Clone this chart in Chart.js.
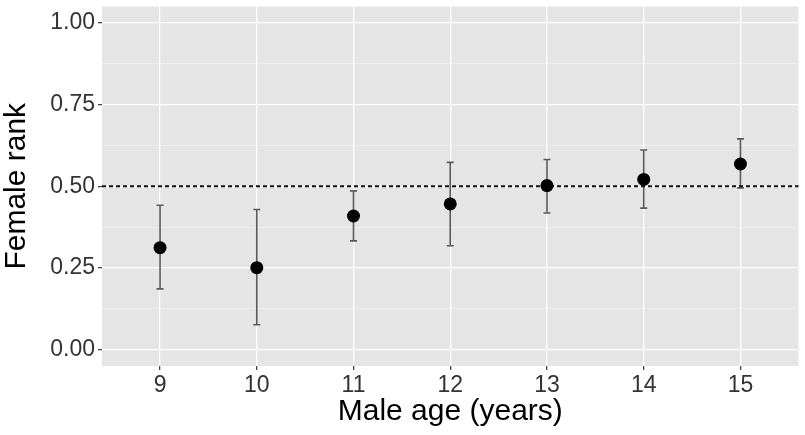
<!DOCTYPE html>
<html>
<head>
<meta charset="utf-8">
<script src="https://cdn.jsdelivr.net/npm/chart.js"></script>
<style>
  html, body { margin: 0; padding: 0; background: #fff; }
  #wrap { width: 805px; height: 435px; }
</style>
</head>
<body>
<div id="wrap"><canvas id="rankChart"></canvas></div>
<script>
  // data
  const maleAge = [9, 10, 11, 12, 13, 14, 15];
  const rankMean = [0.312, 0.251, 0.409, 0.446, 0.502, 0.521, 0.568];
  const rankLower = [0.186, 0.076, 0.333, 0.318, 0.418, 0.433, 0.495];
  const rankUpper = [0.442, 0.429, 0.486, 0.573, 0.582, 0.611, 0.645];
  const yTicks = [0, 0.25, 0.5, 0.75, 1];
  const yMinor = [0.125, 0.375, 0.625, 0.875];
  const refLine = 0.5;

  const tickFont = { family: 'Liberation Sans, Arial, sans-serif', size: 23 };
  const titleFont = { family: 'Liberation Sans, Arial, sans-serif', size: 30, lineHeight: 1 };

  // grey ggplot-like panel
  const panelBg = {
    id: 'panelBg',
    beforeDraw(chart) {
      const { ctx, chartArea: a } = chart;
      ctx.save();
      ctx.fillStyle = '#e5e5e5';
      ctx.fillRect(a.left, a.top, a.right - a.left, a.bottom - a.top);
      ctx.restore();
    }
  };

  // error bars + dashed reference line, drawn under the points
  const errorBars = {
    id: 'errorBars',
    beforeDatasetsDraw(chart) {
      const { ctx, chartArea: a, scales: { x, y } } = chart;
      ctx.save();
      ctx.strokeStyle = '#5a5a5a';
      ctx.lineWidth = 1.6;
      maleAge.forEach((age, i) => {
        const px = x.getPixelForValue(age);
        const top = y.getPixelForValue(rankUpper[i]);
        const bot = y.getPixelForValue(rankLower[i]);
        ctx.beginPath();
        ctx.moveTo(px, top); ctx.lineTo(px, bot);
        ctx.moveTo(px - 3.5, top); ctx.lineTo(px + 3.5, top);
        ctx.moveTo(px - 3.5, bot); ctx.lineTo(px + 3.5, bot);
        ctx.stroke();
      });
      // reference line
      const py = y.getPixelForValue(refLine);
      ctx.strokeStyle = '#111';
      ctx.lineWidth = 2;
      ctx.setLineDash([4, 3]);
      ctx.beginPath();
      ctx.moveTo(a.left, py); ctx.lineTo(a.right, py);
      ctx.stroke();
      ctx.restore();
    }
  };

  new Chart(document.getElementById('rankChart'), {
    type: 'scatter',
    data: {
      datasets: [{
        label: 'Female rank',
        data: maleAge.map((age, i) => ({ x: age, y: rankMean[i] })),
        backgroundColor: '#000',
        borderWidth: 0,
        pointRadius: 6.5,
        pointHoverRadius: 6.5
      }]
    },
    options: {
      responsive: true,
      maintainAspectRatio: false,
      animation: false,
      layout: { padding: { top: 5, right: 5, left: 0, bottom: 0 } },
      plugins: {
        legend: { display: false },
        tooltip: { enabled: false }
      },
      scales: {
        x: {
          type: 'linear',
          min: 8.4,
          max: 15.6,
          afterBuildTicks: s => { s.ticks = maleAge.map(v => ({ value: v })); },
          afterFit: s => { s.height = 69; s.paddingLeft = 0; s.paddingRight = 0; },
          border: { display: false },
          grid: { color: '#fff', lineWidth: 1.3, tickColor: '#444', tickLength: 4 },
          ticks: { color: '#333', font: tickFont, padding: 2, callback: v => v },
          title: { display: true, text: 'Male age (years)', color: '#000', font: titleFont, padding: { top: 0, bottom: 8 } }
        },
        y: {
          min: -0.05,
          max: 1.05,
          afterBuildTicks: s => {
            s.ticks = yTicks.concat(yMinor).sort((a, b) => a - b).map(v => ({ value: v }));
          },
          afterFit: s => { s.width = 102; s.paddingTop = 0; s.paddingBottom = 0; },
          border: { display: false },
          grid: {
            color: c => yMinor.includes(c.tick && c.tick.value) ? 'rgba(255,255,255,0.55)' : '#fff',
            lineWidth: c => yMinor.includes(c.tick && c.tick.value) ? 0.7 : 1.3,
            tickColor: c => yMinor.includes(c.tick && c.tick.value) ? 'rgba(0,0,0,0)' : '#444',
            tickLength: 4
          },
          ticks: {
            color: '#333',
            font: tickFont,
            padding: 3,
            callback: v => yTicks.includes(v) ? v.toFixed(2) : ''
          },
          title: { display: true, text: 'Female rank', color: '#000', font: titleFont, padding: { top: 2, bottom: 0 } }
        }
      }
    },
    plugins: [panelBg, errorBars]
  });
</script>
</body>
</html>
